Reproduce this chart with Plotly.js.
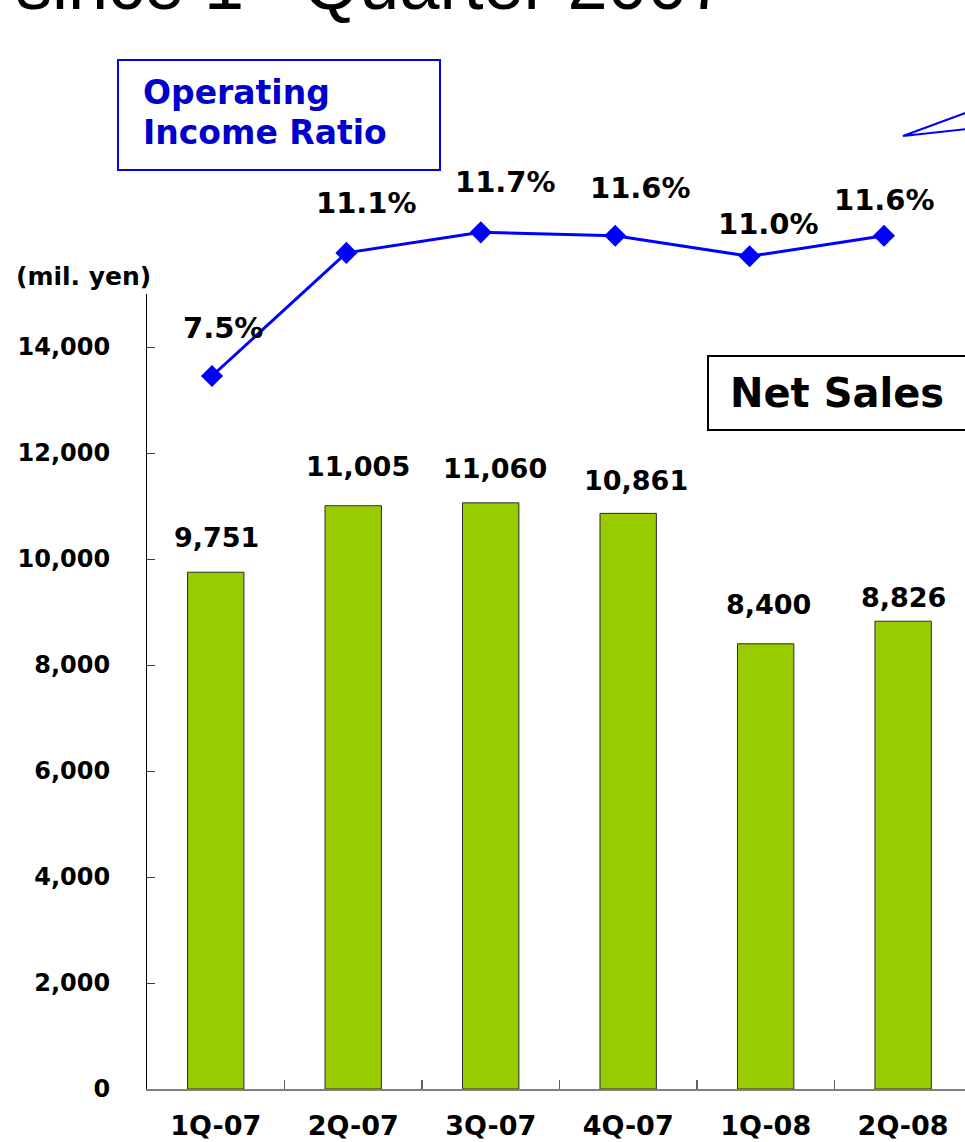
<!DOCTYPE html>
<html>
<head>
<meta charset="utf-8">
<script src="https://cdn.plot.ly/plotly-3.0.1.min.js"></script>
<style>html,body{margin:0;padding:0;background:#fff;overflow:hidden;}</style>
</head>
<body>
<div id="chart" style="width:965px;height:1142px;"></div>
<script>
// ---- data ----
const quarters = ['1Q-07', '2Q-07', '3Q-07', '4Q-07', '1Q-08', '2Q-08'];
const netSales = [9751, 11005, 11060, 10861, 8400, 8826];
const opIncomeRatio = [7.5, 11.1, 11.7, 11.6, 11.0, 11.6];
const yTickVals = [0, 2000, 4000, 6000, 8000, 10000, 12000, 14000];
const unitLabel = '(mil. yen)';
const ratioTitle = ['Operating', 'Income Ratio'];
const salesTitle = 'Net Sales';
const pageTitle = 'since 1<sup>st</sup> Quarter 2007';

// ---- layout helpers (pixel -> paper) ----
const L = 147, R = 965, T = 60, B = 1089;
const px2x = p => (p - L) / (R - L);
const px2y = p => (B - p) / (B - T);

const FONT = 'DejaVu Sans, Verdana, sans-serif';
const fmt = v => v.toLocaleString('en-US');

// label offsets (style)
const salesShiftY = [35, 39, 34, 33, 39, 24];
const salesShiftX = [1, 5, 4, 8, 3, 0];
const ratioShiftX = [11, 20, 25, 25, 19, 0];
const ratioShiftY = [48, 50, 50, 48, 32, 36];

const barTrace = {
  type: 'bar',
  x: quarters,
  y: netSales,
  xaxis: 'x', yaxis: 'y',
  width: 0.41,
  marker: { color: '#99CC00', line: { color: '#2a2a2a', width: 1 } },
  hoverinfo: 'skip'
};

const lineTrace = {
  type: 'scatter',
  mode: 'lines+markers',
  x: quarters,
  y: opIncomeRatio,
  xaxis: 'x2', yaxis: 'y2',
  line: { color: '#0000FF', width: 3 },
  marker: { symbol: 'diamond', size: 17, color: '#0000FF' },
  hoverinfo: 'skip'
};

const annotations = [];
quarters.forEach((q, i) => {
  annotations.push({
    x: q, y: netSales[i], xref: 'x', yref: 'y',
    text: fmt(netSales[i]), showarrow: false,
    xanchor: 'center', yanchor: 'middle',
    xshift: salesShiftX[i], yshift: salesShiftY[i],
    font: { family: FONT, size: 27, color: '#000', weight: 'bold' }
  });
  annotations.push({
    x: q, y: opIncomeRatio[i], xref: 'x2', yref: 'y2',
    text: opIncomeRatio[i].toFixed(1) + '%', showarrow: false,
    xanchor: 'center', yanchor: 'middle',
    xshift: ratioShiftX[i], yshift: ratioShiftY[i],
    font: { family: FONT, size: 29, color: '#000', weight: 'bold' }
  });
});

annotations.push(
  { xref: 'paper', yref: 'paper', x: px2x(83), y: px2y(276), text: unitLabel,
    showarrow: false, xanchor: 'center', yanchor: 'middle',
    font: { family: FONT, size: 25, color: '#000', weight: 'bold' } },
  { xref: 'paper', yref: 'paper', x: px2x(141), y: px2y(93), text: ratioTitle[0],
    showarrow: false, xanchor: 'left', yanchor: 'middle',
    font: { family: FONT, size: 33, color: '#0000CC', weight: 'bold' } },
  { xref: 'paper', yref: 'paper', x: px2x(141), y: px2y(132), text: ratioTitle[1],
    showarrow: false, xanchor: 'left', yanchor: 'middle',
    font: { family: FONT, size: 33, color: '#0000CC', weight: 'bold' } },
  { xref: 'paper', yref: 'paper', x: px2x(728), y: px2y(393), text: salesTitle,
    showarrow: false, xanchor: 'left', yanchor: 'middle',
    font: { family: FONT, size: 40, color: '#000', weight: 'bold' } },
  { xref: 'paper', yref: 'paper', x: px2x(14), y: px2y(26), text: pageTitle,
    showarrow: false, xanchor: 'left', yanchor: 'bottom',
    font: { family: 'Liberation Sans, Arial, sans-serif', size: 72, color: '#000' } }
);

const shapes = [
  { type: 'rect', xref: 'paper', yref: 'paper',
    x0: px2x(118), x1: px2x(440), y0: px2y(170), y1: px2y(60),
    line: { color: '#0000FF', width: 2 }, fillcolor: 'rgba(0,0,0,0)' },
  { type: 'rect', xref: 'paper', yref: 'paper',
    x0: px2x(708), x1: px2x(980), y0: px2y(430), y1: px2y(356),
    line: { color: '#000000', width: 2 }, fillcolor: 'rgba(0,0,0,0)' },
  { type: 'path', xref: 'paper', yref: 'paper',
    path: `M ${px2x(968)} ${px2y(112)} L ${px2x(903)} ${px2y(136)} L ${px2x(968)} ${px2y(129)}`,
    line: { color: '#0000FF', width: 2 } }
];

const layout = {
  width: 965, height: 1142,
  margin: { l: L, r: 965 - R, t: T, b: 1142 - B, pad: 0 },
  paper_bgcolor: '#ffffff',
  plot_bgcolor: 'rgba(0,0,0,0)',
  showlegend: false,
  xaxis: {
    type: 'category', domain: [0, 1], anchor: 'y',
    range: [-0.5, 5.45],
    showline: true, linecolor: '#808080', linewidth: 2,
    ticks: 'inside', tickson: 'boundaries', ticklen: 9, tickwidth: 1.5, tickcolor: '#606060',
    showgrid: false, zeroline: false,
    ticklabelstandoff: 12,
    tickfont: { family: FONT, size: 27, color: '#000', weight: 'bold' }
  },
  yaxis: {
    domain: [0, px2y(294)], anchor: 'x',
    range: [0, 15000],
    tickvals: yTickVals, tickformat: ',d',
    showline: true, linecolor: '#000000', linewidth: 1,
    ticks: 'inside', ticklen: 8, tickwidth: 1, tickcolor: '#404040',
    showgrid: false, zeroline: false,
    ticklabelstandoff: 31,
    tickfont: { family: FONT, size: 24, color: '#000', weight: 'bold' }
  },
  xaxis2: {
    type: 'category', domain: [0, 1], anchor: 'y2',
    range: [-0.4836, 5.6027], visible: false
  },
  yaxis2: {
    domain: [0, 1], anchor: 'x2',
    range: [7.5 - (B - 376) / 34.2, 7.5 + (376 - T) / 34.2], visible: false
  },
  annotations: annotations,
  shapes: shapes
};

Plotly.newPlot('chart', [barTrace, lineTrace], layout, { staticPlot: true, displayModeBar: false });
</script>
</body>
</html>
